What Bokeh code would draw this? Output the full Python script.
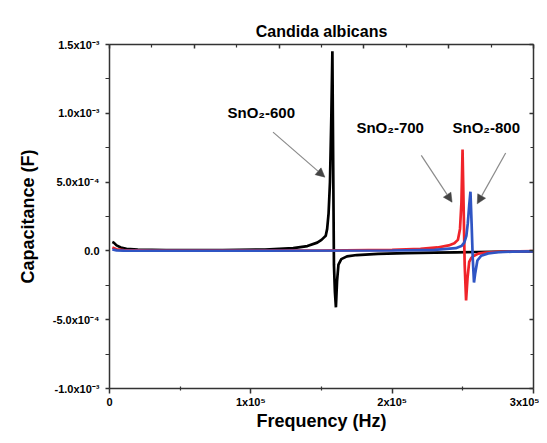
from bokeh.plotting import figure
from bokeh.models import LinearAxis, FixedTicker, Arrow, NormalHead, Range1d
from bokeh.core.properties import value
from bokeh.embed import file_html
from bokeh.resources import INLINE

# ---- data (Hz, F) ----
freq_600 = [2000, 3000, 5000, 8000, 12000, 20000, 40000, 80000, 110000, 130000, 140000,
            147000, 150000, 152000, 153000, 154000, 155000, 156000, 157000, 157700,
            158300, 158800, 159500, 160200, 161000, 162000, 164000, 168000, 175000,
            190000, 210000, 230000, 245000, 260000, 280000, 300000]
cap_600 = [6.5e-5, 6.0e-5, 4.0e-5, 2.5e-5, 1.5e-5, 1.0e-5, 6e-6, 5e-6, 1.0e-5, 2.0e-5, 3.5e-5,
           6.0e-5, 8.0e-5, 1.0e-4, 1.1e-4, 1.6e-4, 2.7e-4, 5.0e-4, 1.0e-3, 1.45e-3,
           6e-4, -1e-4, -3.0e-4, -4.1e-4, -2.2e-4, -1.0e-4, -6.0e-5, -4.0e-5, -3.0e-5,
           -2.2e-5, -1.6e-5, -1.2e-5, -1.0e-5, -8e-6, -5e-6, -4e-6]

freq_700 = [2000, 5000, 10000, 30000, 100000, 150000, 200000, 220000, 232000, 240000,
            244000, 246500, 248000, 249000, 249800, 250600, 251300, 252300, 253300,
            254500, 256000, 258000, 261000, 266000, 275000, 290000, 300000]
cap_700 = [2.5e-5, 1.2e-5, 6e-6, 3e-6, 2e-6, 3e-6, 8e-6, 1.5e-5, 2.5e-5, 4.0e-5,
           5.5e-5, 8e-5, 1.6e-4, 3.5e-4, 7.36e-4, 3e-4, -1e-4, -3.6e-4, -2.0e-4,
           -8e-5, -5e-5, -3.5e-5, -2.0e-5, -1.2e-5, -6e-6, -3e-6, -2e-6]

freq_800 = [2000, 5000, 10000, 100000, 200000, 230000, 245000, 249000, 251000, 252500,
            253500, 254500, 255400, 256200, 257000, 257900, 258800, 260300, 263000,
            268000, 275000, 285000, 300000]
cap_800 = [1e-5, 4e-6, 2e-6, 1e-6, 3e-6, 8e-6, 2.0e-5, 3.5e-5, 6e-5, 1.1e-4,
           2.0e-4, 3.3e-4, 4.3e-4, 2e-4, -5e-5, -2.3e-4, -1.6e-4, -7e-5, -3.5e-5,
           -1.8e-5, -1e-5, -5e-6, -3e-6]

x_ticks = [0, 100000, 200000, 300000]
x_tick_labels = ["0", "1x10\u2075", "2x10\u2075", "3x10\u2075"]
x_minor_ticks = [50000, 150000, 250000]
top_ticks = [0, 60000, 120000, 180000, 240000, 300000]
top_minor_ticks = [30000, 90000, 150000, 210000, 270000]
y_ticks = [-1.0e-3, -5.0e-4, 0.0, 5.0e-4, 1.0e-3, 1.5e-3]
y_tick_labels = ["-1.0x10\u207b\u00b3", "-5.0x10\u207b\u2074", "0.0",
                 "5.0x10\u207b\u2074", "1.0x10\u207b\u00b3", "1.5x10\u207b\u00b3"]
y_minor_ticks = [-7.5e-4, -2.5e-4, 2.5e-4, 7.5e-4, 1.25e-3]

labels = ["SnO\u2082-600", "SnO\u2082-700", "SnO\u2082-800"]
label_x = [107400, 198600, 266600]
label_y = [1.003e-3, 8.94e-4, 8.94e-4]
arrow_x0 = [115700, 220600, 280300]
arrow_y0 = [8.63e-4, 6.94e-4, 7.11e-4]
arrow_x1 = [152400, 242400, 260200]
arrow_y1 = [5.36e-4, 3.54e-4, 3.42e-4]

FONT = "Liberation Sans"
AX = "#333333"

p = figure(width=539, height=435, output_backend="svg", toolbar_location=None,
           x_range=Range1d(0, 300000), y_range=Range1d(-1.0e-3, 1.5e-3),
           min_border_left=109, min_border_right=6, min_border_top=44, min_border_bottom=47,
           title="Candida albicans")
p.background_fill_color = "white"
p.border_fill_color = "white"
p.outline_line_color = None
p.xgrid.grid_line_color = None
p.ygrid.grid_line_color = None

p.title.text_font = FONT
p.title.text_font_style = "bold"
p.title.text_font_size = "16px"
p.title.align = "center"
p.title.text_color = "black"

# data lines
p.line(freq_600, cap_600, line_color="black", line_width=2.7)
p.line(freq_700, cap_700, line_color="#f0242a", line_width=2.7)
p.line(freq_800, cap_800, line_color="#2f55c4", line_width=2.7)

# axes
xa = p.xaxis[0]
xa.ticker = FixedTicker(ticks=x_ticks, minor_ticks=x_minor_ticks)
xa.major_label_overrides = {t: l for t, l in zip(x_ticks, x_tick_labels)}
xa.axis_label = "Frequency (Hz)"
ya = p.yaxis[0]
ya.ticker = FixedTicker(ticks=y_ticks, minor_ticks=y_minor_ticks)
ya.major_label_overrides = {t: l for t, l in zip(y_ticks, y_tick_labels)}
ya.axis_label = "Capacitance (F)"

for ax in (xa, ya):
    ax.axis_line_color = AX
    ax.axis_line_width = 1.5
    ax.major_tick_line_color = AX
    ax.minor_tick_line_color = AX
    ax.major_tick_line_width = 1.5
    ax.minor_tick_line_width = 1.2
    ax.major_label_text_font = FONT
    ax.major_label_text_font_style = "bold"
    ax.major_label_text_font_size = "11px"
    ax.major_label_text_color = "black"
    ax.axis_label_text_font = FONT
    ax.axis_label_text_font_style = "bold"
    ax.axis_label_text_font_size = "18px"
    ax.axis_label_text_color = "black"

xa.major_tick_in = 0
xa.major_tick_out = 5
xa.minor_tick_in = 2
xa.minor_tick_out = 2
xa.major_label_standoff = 2
xa.axis_label_standoff = 0

ya.major_tick_in = 0
ya.major_tick_out = 4
ya.minor_tick_in = 0
ya.minor_tick_out = 4
ya.major_label_standoff = 6
ya.axis_label_standoff = 12

top = LinearAxis(ticker=FixedTicker(ticks=top_ticks, minor_ticks=top_minor_ticks))
right = LinearAxis(ticker=FixedTicker(ticks=y_ticks, minor_ticks=y_minor_ticks))
for ax in (top, right):
    ax.axis_line_color = AX
    ax.axis_line_width = 1.5
    ax.major_tick_line_color = AX
    ax.minor_tick_line_color = AX
    ax.major_tick_line_width = 1.5
    ax.minor_tick_line_width = 1.2
    ax.major_tick_in = 4
    ax.major_tick_out = 0
    ax.minor_tick_in = 3
    ax.minor_tick_out = 0
    ax.major_label_text_font_size = "0px"
    ax.major_label_standoff = 0
    ax.major_label_text_alpha = 0
p.add_layout(top, "above")
p.add_layout(right, "right")

# annotations
for x0, y0, x1, y1 in zip(arrow_x0, arrow_y0, arrow_x1, arrow_y1):
    p.add_layout(Arrow(x_start=x0, y_start=y0, x_end=x1, y_end=y1,
                       line_color="#8a8a8a", line_width=1.2,
                       end=NormalHead(size=9, fill_color="#444444", line_color="#444444",
                                      line_width=0.5)))

p.text(x=label_x, y=label_y, text=labels, text_font=value(FONT), text_font_style="bold",
       text_font_size="15px", text_align="center", text_baseline="middle", text_color="black")

open("out.html", "w").write(file_html(p, INLINE))
